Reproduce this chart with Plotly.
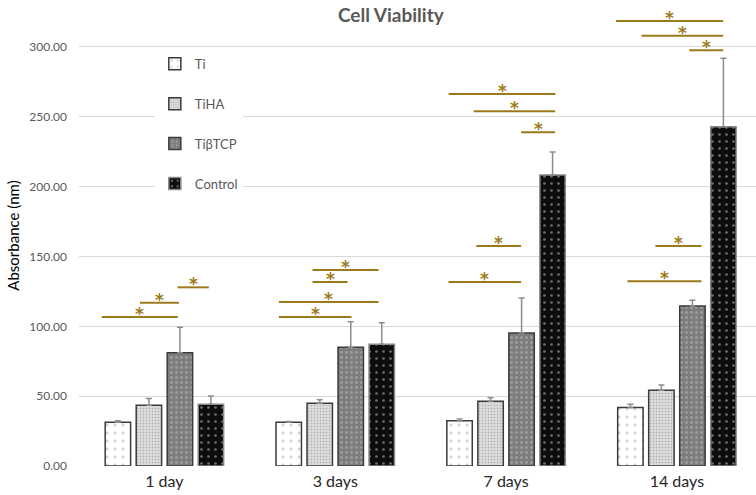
import plotly.graph_objects as go

# ---------------- data ----------------
categories = ["1 day", "3 days", "7 days", "14 days"]
series_names = ["Ti", "TiHA", "TiβTCP", "Control"]

ti_values = [31.3, 31.3, 32.4, 41.8]
ti_err_top = [32.4, 31.8, 33.6, 44.2]
tiha_values = [43.4, 44.9, 46.3, 54.2]
tiha_err_top = [48.4, 47.5, 48.9, 58.0]
titcp_values = [81.1, 85.0, 95.2, 114.6]
titcp_err_top = [99.3, 103.3, 120.3, 118.6]
control_values = [44.2, 87.1, 208.3, 242.9]
control_err_top = [50.1, 102.6, 224.8, 291.9]

y_tick_values = [0, 50, 100, 150, 200, 250, 300]
y_tick_labels = ["0.00", "50.00", "100.00", "150.00", "200.00", "250.00", "300.00"]

# significance bars: start / end on the category axis, height in data units
sig_x0 = [-0.367, -0.143, 0.077,
          0.670, 0.867, 0.670, 0.867,
          1.663, 1.826, 1.664, 1.810, 2.088,
          2.710, 2.874, 2.643, 2.793, 3.072]
sig_x1 = [0.078, 0.085, 0.260,
          1.095, 1.072, 1.253, 1.253,
          2.088, 2.088, 2.289, 2.287, 2.287,
          3.144, 3.144, 3.271, 3.271, 3.271]
sig_y = [106.7, 116.9, 127.9,
         106.7, 131.7, 117.4, 140.3,
         131.7, 157.5, 266.3, 254.0, 238.9,
         132.2, 157.5, 318.6, 307.9, 297.6]

# ---------------- styles ----------------
GOLD = "#9C7A1C"
GRAY_TXT = "#595959"
FONT = "Lato"

x_pos = list(range(len(categories)))

styles = [
    dict(bg="#ffffff", fg="#a0a0a0", shape=".", size=8, solidity=0.1, line="#3a3a3a"),
    dict(bg="#e0e0e0", fg="#8a8a8a", shape=".", size=3, solidity=0.35, line="#3a3a3a"),
    dict(bg="#7d7d7d", fg="#bdbdbd", shape=".", size=5, solidity=0.25, line="#3a3a3a"),
    dict(bg="#0d0d0d", fg="#d0d0d0", shape=".", size=7, solidity=0.12, line="#8a8a8a"),
]
values = [ti_values, tiha_values, titcp_values, control_values]
tops = [ti_err_top, tiha_err_top, titcp_err_top, control_err_top]

fig = go.Figure()
for i, name in enumerate(series_names):
    st = styles[i]
    err_plus = [t - v for t, v in zip(tops[i], values[i])]
    fig.add_trace(go.Bar(
        name=name,
        x=x_pos,
        y=values[i],
        legendgroup=name,
        marker=dict(
            color=st["bg"],
            line=dict(color=st["line"], width=1.5),
            pattern=dict(shape=st["shape"], bgcolor=st["bg"], fgcolor=st["fg"],
                         size=st["size"], solidity=st["solidity"], fillmode="overlay"),
        ),
        error_y=dict(type="data", symmetric=False, array=err_plus,
                     arrayminus=[0] * len(err_plus),
                     color="#8c8c8c", thickness=1.5, width=3),
    ))

for x0, x1, yv in zip(sig_x0, sig_x1, sig_y):
    fig.add_shape(type="line", xref="x", yref="y", x0=x0, x1=x1, y0=yv, y1=yv,
                  line=dict(color=GOLD, width=2))
    fig.add_annotation(x=(x0 + x1) / 2, y=yv, xref="x", yref="y", text="<b>*</b>",
                       showarrow=False, yanchor="bottom", yshift=-9,
                       font=dict(family="DejaVu Sans", size=17, color=GOLD))

fig.update_layout(
    width=756, height=495,
    margin=dict(l=79, r=0, t=5, b=29),
    paper_bgcolor="white", plot_bgcolor="white",
    barmode="group", bargap=0.274, bargroupgap=0.18,
    title=dict(text="<b>Cell Viability</b>", x=0.517, xanchor="center",
               y=0.968, yanchor="middle", yref="container",
               font=dict(family=FONT, size=19, color=GRAY_TXT)),
    font=dict(family=FONT),
    showlegend=True,
    legend=dict(x=0.112, y=0.905, xanchor="left", yanchor="top",
                bgcolor="rgba(255,255,255,1)", tracegroupgap=20,
                font=dict(family=FONT, size=13, color=GRAY_TXT)),
    xaxis=dict(range=[-0.5, 3.463], tickvals=x_pos, ticktext=categories,
               showgrid=False, zeroline=False, showline=False, ticks="",
               ticklabelstandoff=4,
               tickfont=dict(family=FONT, size=16, color="#262626")),
    yaxis=dict(range=[0, 330], tickvals=y_tick_values, ticktext=y_tick_labels,
               showgrid=True, gridcolor="#d9d9d9", gridwidth=1,
               zeroline=False, showline=False, ticks="",
               ticklabelstandoff=11,
               tickfont=dict(family=FONT, size=12, color=GRAY_TXT),
               title=dict(text="Absorbance (nm)", standoff=6,
                          font=dict(family=FONT, size=15, color="#000000"))),
)

fig.write_html("out.html", config={"displayModeBar": False},
               post_script="document.body.style.margin='0';")
